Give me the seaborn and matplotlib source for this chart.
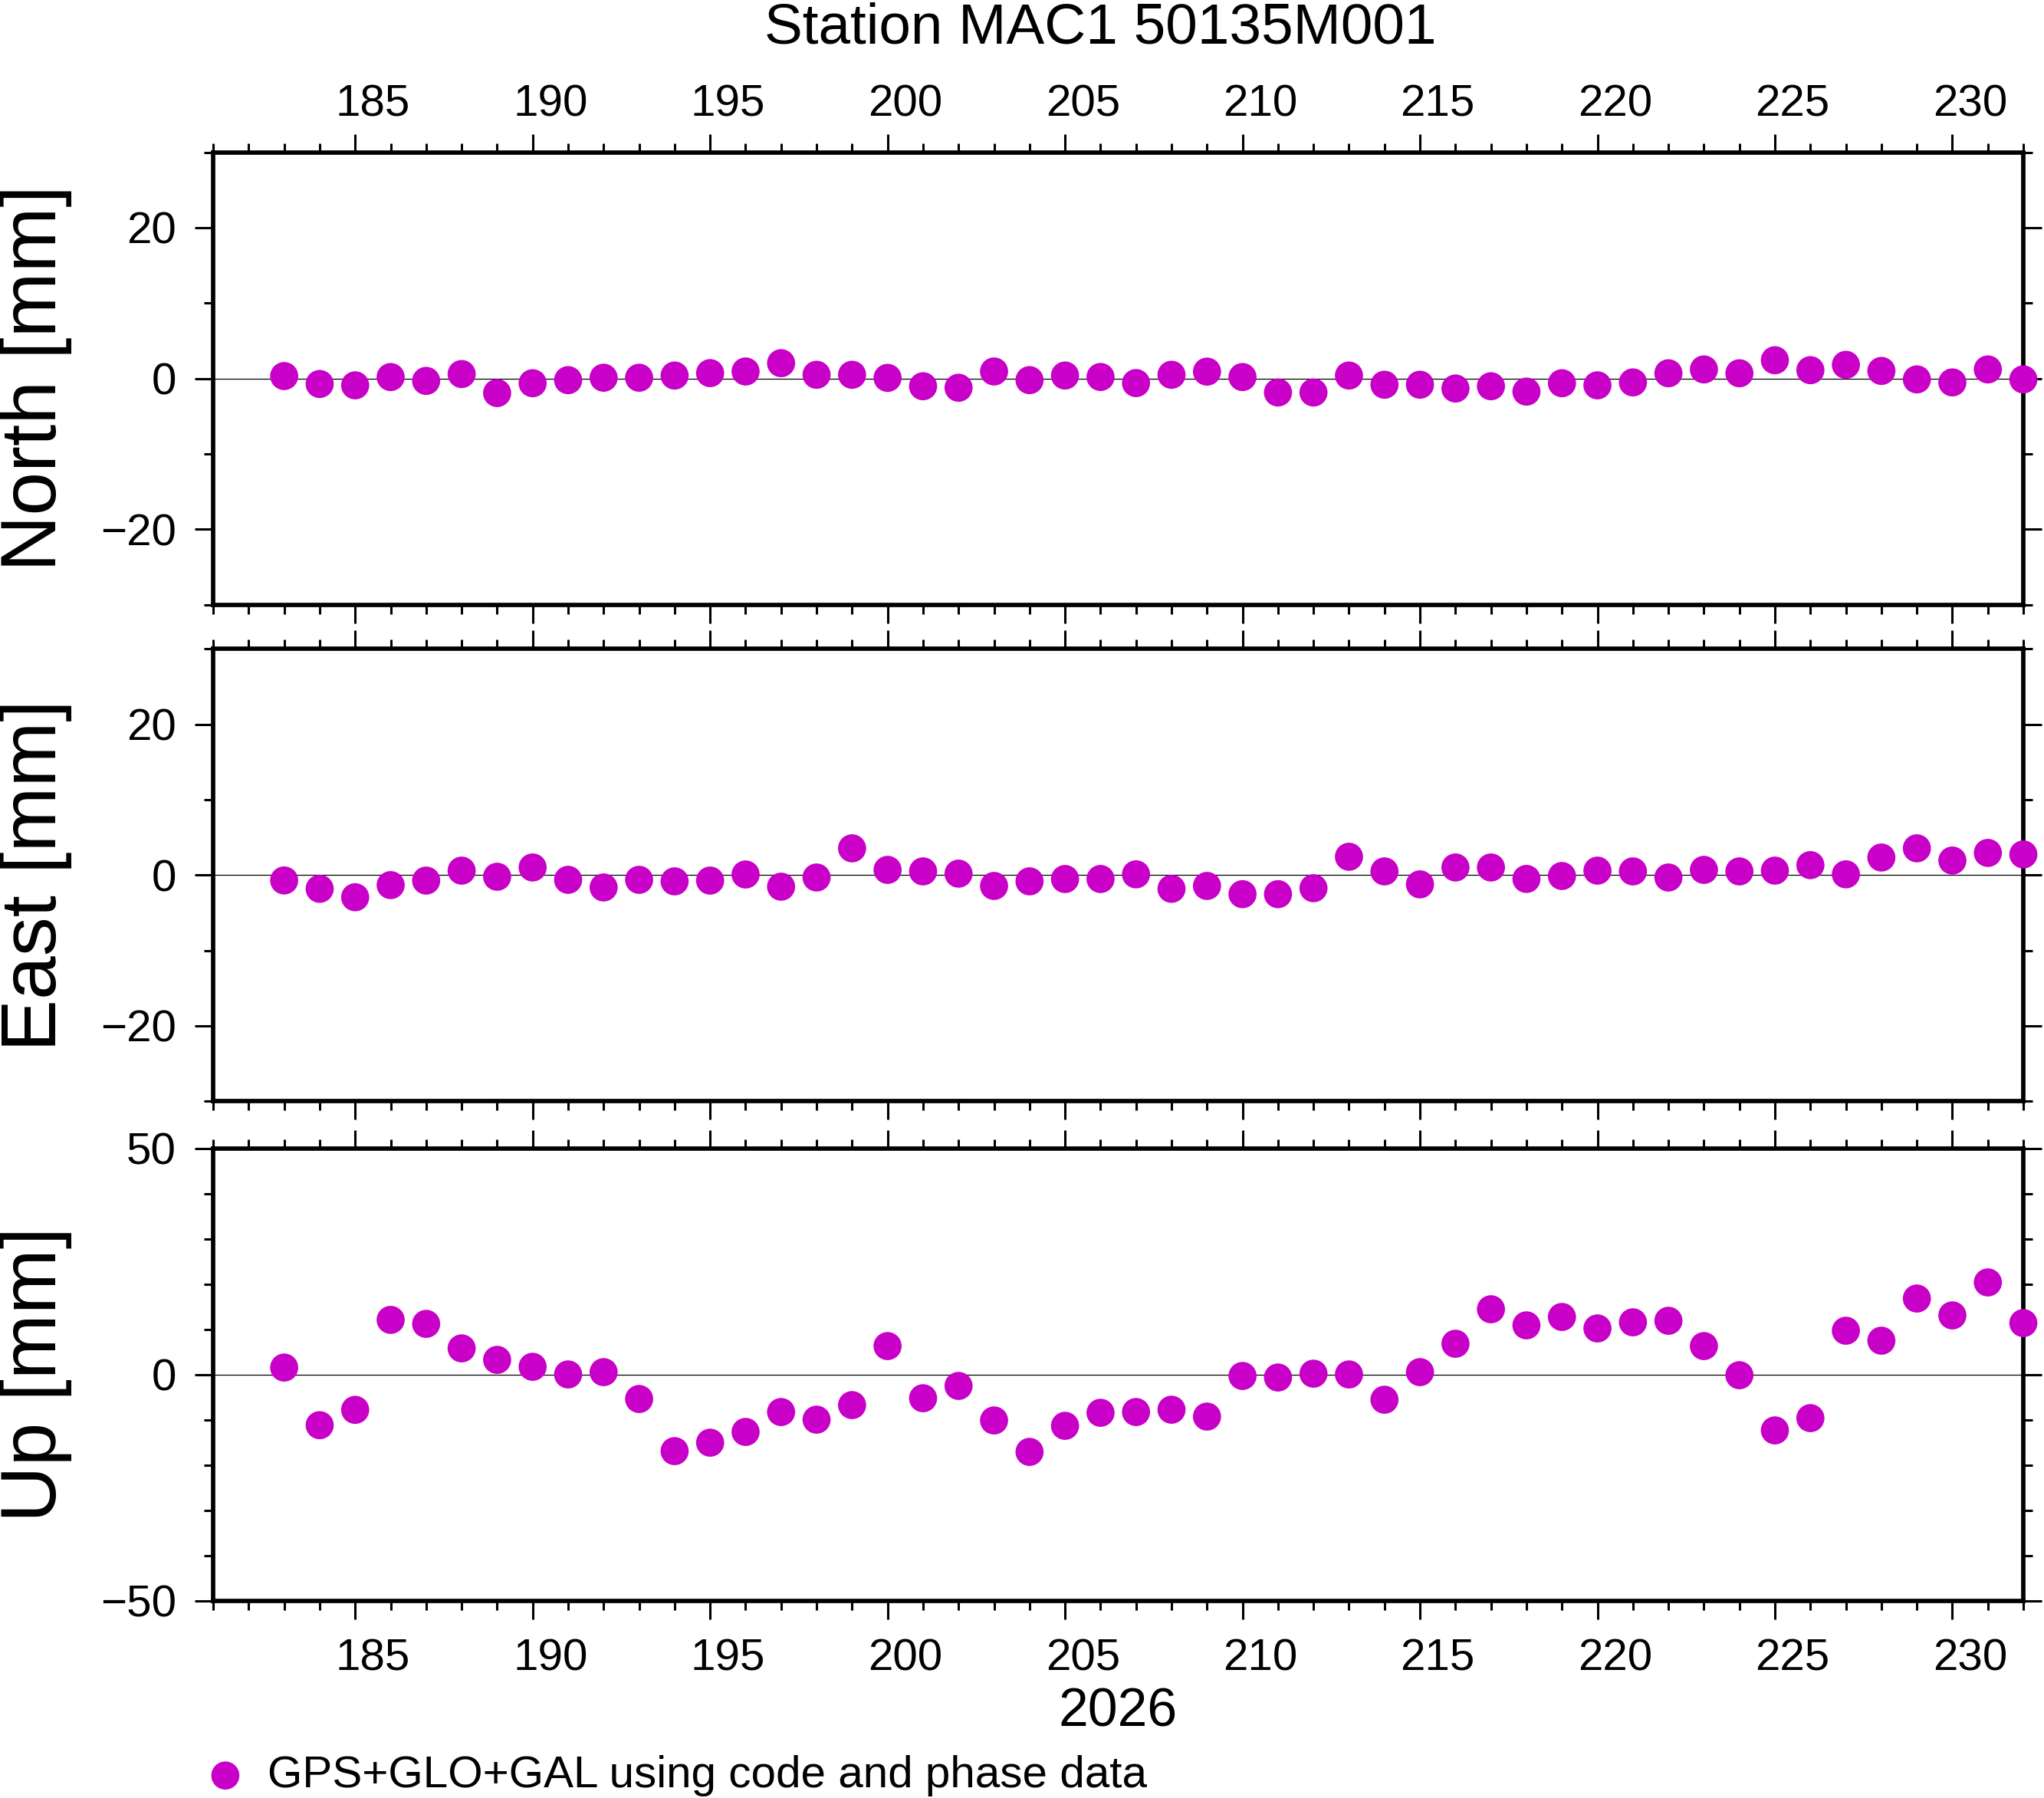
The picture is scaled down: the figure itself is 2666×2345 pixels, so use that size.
import matplotlib
matplotlib.use("Agg")
import matplotlib.pyplot as plt
import seaborn as sns
import pandas as pd
from matplotlib.ticker import MultipleLocator, NullLocator

sns.set_style("ticks")
plt.rcParams['font.family'] = ['Liberation Sans', 'DejaVu Sans']
plt.rcParams['axes.unicode_minus'] = True
plt.rcParams['text.color'] = 'black'
plt.rcParams['axes.labelcolor'] = 'black'
plt.rcParams['xtick.color'] = 'black'
plt.rcParams['ytick.color'] = 'black'
plt.rcParams['xtick.labelcolor'] = 'black'
plt.rcParams['ytick.labelcolor'] = 'black'

# ---------------- data ----------------
doy = list(range(183, 233))
north = [0.32, -0.73, -0.91, 0.19, -0.32, 0.59, -1.93, -0.63, -0.22, 0.10,
         0.10, 0.39, 0.71, 0.93, 2.03, 0.49, 0.49, 0.08, -1.03, -1.23,
         0.93, -0.22, 0.39, 0.20, -0.61, 0.49, 0.91, 0.19, -1.86, -1.86,
         0.39, -0.83, -0.83, -1.33, -1.03, -1.74, -0.63, -0.91, -0.52, 0.69,
         1.20, 0.69, 2.42, 1.10, 1.81, 1.00, -0.12, -0.52, 1.20, -0.12]
east = [-0.71, -1.82, -2.94, -1.33, -0.73, 0.59, -0.22, 1.01, -0.63, -1.64,
        -0.63, -0.83, -0.73, 0.08, -1.54, -0.32, 3.55, 0.69, 0.49, 0.19,
        -1.44, -0.83, -0.52, -0.52, 0.10, -1.82, -1.44, -2.53, -2.53, -1.74,
        2.43, 0.49, -1.23, 1.01, 1.01, -0.51, -0.12, 0.59, 0.49, -0.32,
        0.69, 0.49, 0.59, 1.32, 0.10, 2.33, 3.55, 1.93, 2.94, 2.74]
up = [1.55, -11.19, -7.80, 12.09, 11.21, 5.79, 3.25, 1.72, 0.03, 0.54,
      -5.40, -16.92, -15.06, -12.68, -8.28, -9.97, -6.75, 6.30, -5.23, -2.51,
      -10.14, -17.09, -11.33, -8.45, -8.28, -7.77, -9.29, -0.31, -0.65, 0.20,
      0.03, -5.56, 0.54, 6.81, 14.44, 10.88, 12.74, 10.20, 11.55, 11.89,
      6.30, -0.14, -12.34, -9.63, 9.69, 7.49, 16.81, 13.08, 20.37, 11.38]

components = ["North", "East", "Up"]
ylims = {"North": (-30, 30), "East": (-30, 30), "Up": (-50, 50)}
ymajor = {"North": 20, "East": 20, "Up": 50}
yminor = 10
xlim = (181, 232)
day_labels = [185, 190, 195, 200, 205, 210, 215, 220, 225, 230]
title = "Station MAC1 50135M001"
year_label = "2026"
legend_label = "GPS+GLO+GAL using code and phase data"
color = "#c800c8"

df = pd.DataFrame({"doy": doy, "North": north, "East": east, "Up": up})

# ---------------- figure ----------------
fig = plt.figure(figsize=(13.33, 11.725), dpi=200)
left, width, height = 0.1043, 0.8856, 0.2516
bottoms = [0.6637, 0.3875, 0.1097]

axes = []
for comp, b in zip(components, bottoms):
    ax = fig.add_axes([left, b, width, height])
    axes.append(ax)
    ax.axhline(0, color="black", lw=0.45, zorder=1)
    sns.scatterplot(data=df, x="doy", y=comp, ax=ax, color=color, s=174,
                    edgecolor="none", linewidth=0, clip_on=False, zorder=3,
                    legend=False)
    ax.set_xlim(*xlim)
    ax.set_ylim(*ylims[comp])
    ax.xaxis.set_major_locator(MultipleLocator(5))
    ax.xaxis.set_minor_locator(MultipleLocator(1))
    ax.yaxis.set_major_locator(MultipleLocator(ymajor[comp]))
    ax.yaxis.set_minor_locator(MultipleLocator(yminor))
    ax.tick_params(axis="both", which="both", direction="out", top=True,
                   right=True, bottom=True, left=True, labeltop=False,
                   labelbottom=False, labelright=False, color="black",
                   labelcolor="black")
    ax.tick_params(which="major", length=8.6, width=1.1)
    ax.tick_params(which="minor", length=4.3, width=1.1)
    ax.tick_params(axis="y", which="major", labelsize=21, pad=8.8)
    for sp in ax.spines.values():
        sp.set_linewidth(2.05)
        sp.set_color("black")
    ax.set_xlabel("")
    ax.set_ylabel(f"{comp} [mm]", fontsize=36.7, color="black")
    ax.yaxis.set_label_coords(-0.0779, 0.5)

label_pos = [d + 0.5 for d in day_labels]
label_txt = [str(d) for d in day_labels]

sec_top = axes[0].secondary_xaxis("top")
sec_top.set_xticks(label_pos, labels=label_txt)
sec_top.xaxis.set_minor_locator(NullLocator())
sec_top.tick_params(length=0, pad=12.8, labelsize=21, labelcolor="black")
for sp in sec_top.spines.values():
    sp.set_visible(False)

sec_bot = axes[2].secondary_xaxis("bottom")
sec_bot.set_xticks(label_pos, labels=label_txt)
sec_bot.xaxis.set_minor_locator(NullLocator())
sec_bot.tick_params(length=0, pad=17.6, labelsize=21, labelcolor="black")
for sp in sec_bot.spines.values():
    sp.set_visible(False)

fig.text(0.5383, 0.9757, title, ha="center", va="baseline", fontsize=26.9,
         color="black")
fig.text(0.5469, 0.0398, year_label, ha="center", va="baseline", fontsize=25.1,
         color="black")

handle = axes[2].collections[0]
leg = fig.legend(handles=[handle], labels=[legend_label], loc="center left",
                 bbox_to_anchor=(273.5 / 2666, 0.01237), frameon=False,
                 fontsize=21, handlelength=0.7, handletextpad=0.6, borderpad=0,
                 borderaxespad=0, scatterpoints=1, labelcolor="black")

fig.savefig("out.png", dpi=200)
